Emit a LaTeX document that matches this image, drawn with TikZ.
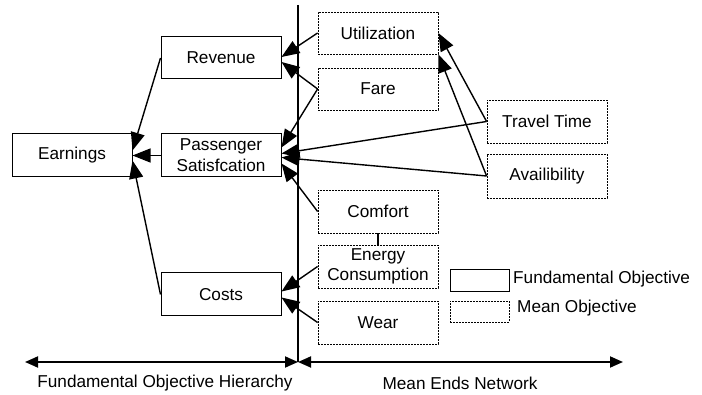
\documentclass[tikz,border=0pt]{standalone}
\usepackage{fontspec}
\setmainfont{Liberation Sans}
\usetikzlibrary{arrows.meta,calc}

\tikzset{
  objbox/.style={draw=black, line width=1pt, minimum width=120pt, minimum height=43pt,
    inner sep=0pt, align=center, font=\fontsize{17.2pt}{21pt}\selectfont},
  fundbox/.style={objbox},
  meanbox/.style={objbox, line width=0.8pt, dash pattern=on 2pt off 1pt},
  tip/.tip={Triangle[length=18pt,width=14pt]},
  link/.style={line width=1.4pt, -tip},
  axis/.style={line width=1.8pt, {Triangle[length=13pt,width=11pt]}-{Triangle[length=13pt,width=11pt]}},
  lbl/.style={font=\fontsize{17.2pt}{20pt}\selectfont, inner sep=0pt}
}

\begin{document}
\begin{tikzpicture}[x=1pt,y=-1pt]
  \useasboundingbox (0,0) rectangle (702,395);

  % fundamental objectives
  \node[fundbox] (earn) at (72,155.5) {Earnings};
  \node[fundbox, minimum height=42pt] (rev) at (221,58) {Revenue};
  \node[fundbox] (pass) at (221,155.5) {Passenger\\Satisfcation};
  \node[fundbox] (costs) at (221,294.5) {Costs};

  % means objectives
  \node[meanbox, minimum height=42pt] (util) at (378,33) {Utilization};
  \node[meanbox, minimum height=42pt] (fare) at (378,89) {Fare};
  \node[meanbox] (comf) at (378,211.5) {Comfort};
  \node[meanbox, font=\fontsize{17.2pt}{19.5pt}\selectfont] (energy) at (378,266.5) {Energy\\Consumption};
  \node[meanbox] (wear) at (378,322.5) {Wear};
  \node[meanbox] (tt) at (547,121.5) {Travel Time};
  \node[meanbox, minimum height=44pt] (avail) at (547,176) {Availibility};

  % legend
  \node[fundbox, minimum width=59pt, minimum height=22pt] (legf) at (479.5,281) {};
  \node[meanbox, minimum width=59pt, minimum height=21pt] (legm) at (479.5,311.5) {};
  \node[lbl, anchor=west] (legft) at (513,279) {Fundamental Objective};
  \node[lbl, anchor=west] (legmt) at (517,308) {Mean Objective};

  % divider and section axes
  \coordinate (top) at (298,5);
  \coordinate (mid) at (298,362);
  \coordinate (left) at (25,362);
  \coordinate (right) at (623,362);
  \draw[line width=1.8pt] (top) -- (mid);
  \draw[axis] (left) -- (mid);
  \draw[axis] (mid) -- (right);
  \node[lbl] (fohl) at (165,383) {Fundamental Objective Hierarchy};
  \node[lbl] (menl) at (460,383) {Mean Ends Network};

  % hierarchy links
  \draw[link] (rev.west) -- ($(earn.east)+(0,-5)$);
  \draw[link] (pass.west) -- (earn.east);
  \draw[link] (costs.west) -- ($(earn.east)+(0,5)$);

  % means-ends links
  \draw[link] (util.west) -- ($(rev.east)+(0,-1)$);
  \draw[link] (fare.west) -- ($(rev.east)+(0,4)$);
  \draw[link] (fare.west) -- ($(pass.east)+(0,-8)$);
  \draw[link] (tt.west) -- ($(pass.east)+(0,-2)$);
  \draw[link] (avail.west) -- ($(pass.east)+(0,2)$);
  \draw[link] (comf.west) -- ($(pass.east)+(0,8)$);
  \draw[link] (tt.west) -- (util.east);
  \draw[link] (avail.west) -- (util.south east);
  \draw[link] (energy.west) -- ($(costs.east)+(0,-3)$);
  \draw[link] (wear.west) -- ($(costs.east)+(0,3)$);
  \draw[line width=1.3pt] (comf.south) -- (energy.north);
\end{tikzpicture}
\end{document}
